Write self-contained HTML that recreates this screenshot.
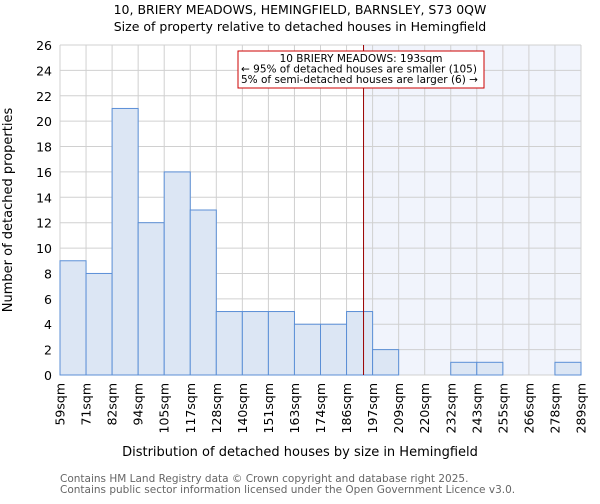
<!DOCTYPE html>
<html><head><meta charset="utf-8"><style>
body{margin:0;background:#fff;font-family:"DejaVu Sans","Liberation Sans",sans-serif}
svg text{font-family:"DejaVu Sans","Liberation Sans",sans-serif}
</style></head><body>
<svg id="c" width="600" height="500" xmlns="http://www.w3.org/2000/svg">
<text x="300" y="14" text-anchor="middle" font-size="12.5">10, BRIERY MEADOWS, HEMINGFIELD, BARNSLEY, S73 0QW</text>
<text x="300" y="31" text-anchor="middle" font-size="12.5">Size of property relative to detached houses in Hemingfield</text>
<g id="plot"></g>
<text x="300" y="456" text-anchor="middle" font-size="13">Distribution of detached houses by size in Hemingfield</text>
<text transform="translate(12,210) rotate(-90)" text-anchor="middle" font-size="13">Number of detached properties</text>
<text x="60" y="482" font-size="10.5" fill="#666">Contains HM Land Registry data © Crown copyright and database right 2025.</text>
<text x="60" y="493" font-size="10.5" fill="#666">Contains public sector information licensed under the Open Government Licence v3.0.</text>
</svg>
<script>
const tickLabels=["59sqm","71sqm","82sqm","94sqm","105sqm","117sqm","128sqm","140sqm","151sqm","163sqm","174sqm","186sqm","197sqm","209sqm","220sqm","232sqm","243sqm","255sqm","266sqm","278sqm","289sqm"];
const counts=[9,8,21,12,16,13,5,5,5,4,4,5,2,0,0,1,1,0,0,1];
const yTicks=[0,2,4,6,8,10,12,14,16,18,20,22,24,26];
const propertySize=193;
const binStart=59, binEnd=289;
const NS="http://www.w3.org/2000/svg";
const X0=60,X1=581,Y0=375,Y1=45,YMAX=26;
const nb=counts.length;
const bw=(X1-X0)/nb;
const xi=i=>X0+i*bw;
const xv=v=>X0+(v-binStart)/(binEnd-binStart)*(X1-X0);
const y=v=>Y0-(v/YMAX)*(Y0-Y1);
const g=document.getElementById('plot');
function mk(t,a){const e=document.createElementNS(NS,t);for(const k in a)e.setAttribute(k,a[k]);g.appendChild(e);return e;}
const px=xv(propertySize);
const shade=mk('rect',{x:px,y:Y1,width:X1-px,height:Y0-Y1,fill:'#f1f4fc'});


for(let i=0;i<=nb;i++){const l=mk('line',{x1:xi(i),x2:xi(i),y1:Y1,y2:Y0,stroke:'#d0d0d0','stroke-width':1});

}
yTicks.forEach(t=>{const l=mk('line',{x1:X0,x2:X1,y1:y(t),y2:y(t),stroke:'#d0d0d0','stroke-width':1});


const tx=mk('text',{x:X0-8,y:y(t)+5,'text-anchor':'end','font-size':12.5});tx.textContent=t;

});
counts.forEach((c,i)=>{if(c<=0)return;const r=mk('rect',{x:xi(i),y:y(c),width:bw,height:Y0-y(c),fill:'#dce6f4',stroke:'#5b8fd6','stroke-width':1});

});
tickLabels.forEach((s,i)=>{const tx=mk('text',{transform:`translate(${xi(i)+4.5},383) rotate(-90)`,'text-anchor':'end','font-size':12.5});tx.textContent=s;

});
const rl=mk('line',{x1:px,x2:px,y1:Y1,y2:Y0,stroke:'#990000','stroke-width':1});


const box=mk('rect',{x:238,y:51,width:246,height:37,fill:'#fff',stroke:'#cc0000','stroke-width':1});


[["10 BRIERY MEADOWS: 193sqm",361,'middle'],["← 95% of detached houses are smaller (105)",241,'start'],["5% of semi-detached houses are larger (6) →",241,'start']].forEach((a,k)=>{
const tx=mk('text',{x:a[1],y:62+k*10.5,'text-anchor':a[2],'font-size':10.5});tx.textContent=a[0];

});
</script>
</body></html>
